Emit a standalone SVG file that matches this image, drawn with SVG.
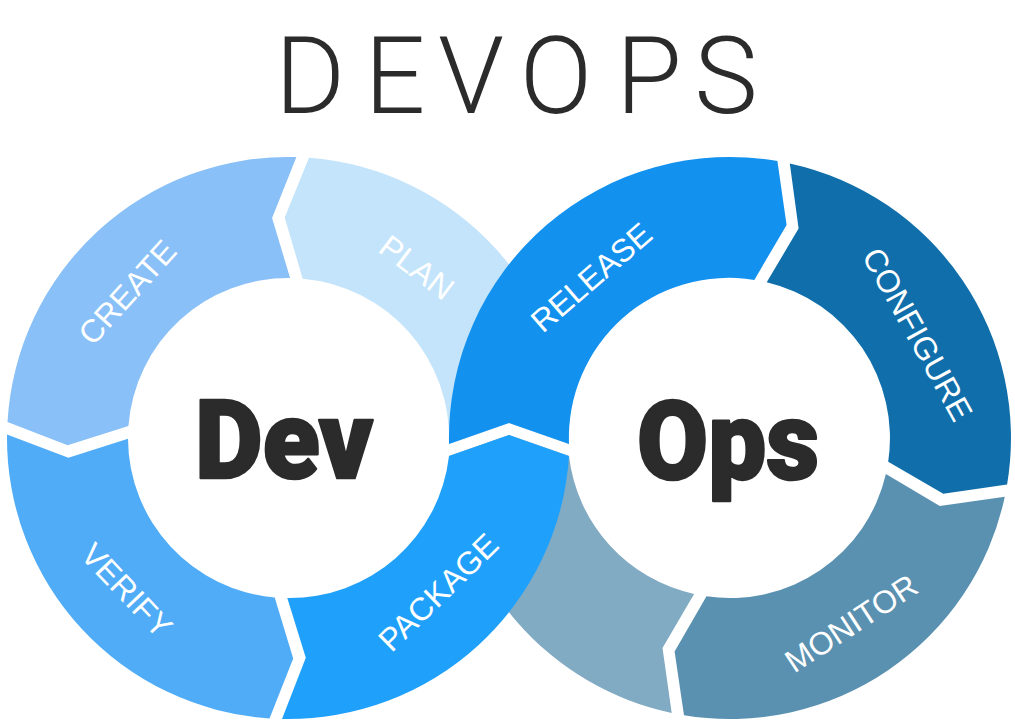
<svg xmlns="http://www.w3.org/2000/svg" width="1015" height="725" viewBox="0 0 1015 725">
<style>
.lbl{font-family:"Liberation Sans",Arial,sans-serif;font-size:32px;fill:#fff;text-anchor:middle}
.big{font-family:Roboto,"Liberation Sans",sans-serif;font-weight:900;font-size:110px;fill:#2b2b2b;stroke:#2b2b2b;stroke-width:2.5;stroke-linejoin:round;text-anchor:middle}
.title{font-family:Roboto,"Liberation Sans",sans-serif;font-weight:300;font-size:107px;fill:#2b2b2b;text-anchor:middle}
</style>
<rect width="1015" height="725" fill="#fff"/>
<g id="title"><text class="title" y="113"><tspan x="310">D</tspan><tspan x="395">E</tspan><tspan x="471">V</tspan><tspan x="556">O</tspan><tspan x="649">P</tspan><tspan x="726">S</tspan></text></g>
<g id="connectors"></g>
<g id="plan"><path fill="#c3e4fa" d="M309.0,157.8 A281,281 0 0 1 569,444 L509,423 L449,444 A160,160 0 0 0 302.7,278.7 L284.7,217.5 Z"/>
<text class="lbl" dy=".36em" transform="translate(417,267) rotate(37.2)">PLAN</text></g>
<g id="operate"><path fill="#81aac3" d="M671.7,712.9 A281,281 0 0 1 449,456 L509,435 L569,456 A160,160 0 0 0 694.1,593.9 L662.5,647.9 Z"/></g>
<g id="create"><path fill="#89c0f7" d="M296.4,157.1 A281,281 0 0 0 7.5,421.9 L67.6,445.2 L128.4,426.1 A160,160 0 0 1 290.1,278.0 L272.1,218.1 Z"/>
<text class="lbl" dy=".36em" transform="translate(127,292) rotate(-47.8)">CREATE</text></g>
<g id="verify"><path fill="#50acf6" d="M7.0,434.5 A281,281 0 0 0 269.5,718.4 L293.2,658.4 L274.7,597.4 A160,160 0 0 1 128.0,438.7 L68.4,457.7 Z"/>
<text class="lbl" dy=".36em" transform="translate(127,590) rotate(46.6)">VERIFY</text></g>
<g id="configure"><path fill="#106fab" d="M789.8,163.4 A281,281 0 0 1 1007.1,484.5 L943.3,493.8 L888.2,461.8 A160,160 0 0 0 766.7,282.3 L798.6,228.5 Z"/>
<text class="lbl" dy=".36em" transform="translate(918,334) rotate(61)">CONFIGURE</text></g>
<g id="monitor"><path fill="#5a91b1" d="M1004.8,496.8 A281,281 0 0 1 684.0,715.2 L674.6,651.4 L706.5,596.3 A160,160 0 0 0 885.9,474.1 L939.8,505.9 Z"/>
<text class="lbl" dy=".36em" transform="translate(851,623) rotate(-33.2)">MONITOR</text></g>
<g id="release"><path fill="#1391ef" d="M449,444 A281,281 0 0 1 777.4,161.0 L786.6,224.9 L754.3,279.9 A160,160 0 0 0 569,444 L509,423 Z"/>
<text class="lbl" dy=".36em" transform="translate(591,277) rotate(-40.8)">RELEASE</text></g>
<g id="package"><path fill="#1fa1fb" d="M282.0,718.9 A281,281 0 0 0 569,456 L509,435 L449,456 A160,160 0 0 1 287.3,598.0 L305.8,657.8 Z"/>
<text class="lbl" dy=".36em" transform="translate(438,592) rotate(-44.2)">PACKAGE</text></g>
<g id="dev"><text class="big" x="284" y="478" textLength="178" lengthAdjust="spacingAndGlyphs">Dev</text></g>
<g id="ops"><text class="big" x="728" y="479" textLength="182" lengthAdjust="spacingAndGlyphs">Ops</text></g>
</svg>
